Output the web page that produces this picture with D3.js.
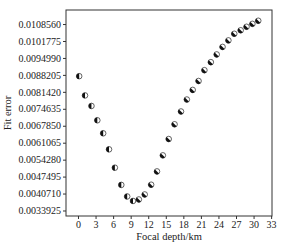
<!doctype html>
<html lang="en">
<head>
  <meta charset="utf-8">
  <title>Fit error vs focal depth</title>
  <script src="https://d3js.org/d3.v7.min.js"></script>
  <style>
    body { margin: 0; background: #fff; }
    text { font-family: "Liberation Serif", "Times New Roman", serif; fill: #222; }
  </style>
</head>
<body>
  <div id="chart"></div>
  <script type="text/javascript">

    var width = 283, height = 247;

    // focal depth (km) of each trial and its fit error
    var depths = [0.2, 1.2, 2.3, 3.3, 4.3, 5.3, 6.3, 7.4, 8.4, 9.4, 10.4,
                  11.4, 12.5, 13.5, 14.5, 15.5, 16.5, 17.6, 18.6, 19.6, 20.6,
                  21.6, 22.7, 23.7, 24.7, 25.7, 26.7, 27.8, 28.8, 29.8, 30.8];
    var fitErrors = [0.008769, 0.007998, 0.007577, 0.007003, 0.006482, 0.005840,
                     0.005106, 0.004416, 0.003954, 0.003774, 0.003834, 0.004034,
                     0.004424, 0.004957, 0.005599, 0.006253, 0.006843, 0.007356,
                     0.007834, 0.008219, 0.008576, 0.009009, 0.009330, 0.009639,
                     0.009940, 0.010201, 0.010466, 0.010606, 0.010746, 0.010863,
                     0.010987];

    var xTicks = [0, 3, 6, 9, 12, 15, 18, 21, 24, 27, 30, 33];
    var yTicks = [0.0033925, 0.0040710, 0.0047495, 0.0054280, 0.0061065, 0.0067850,
                  0.0074635, 0.0081420, 0.0088205, 0.0094990, 0.0101775, 0.0108560];
    var yTickLabels = ['0.0033925', '0.0040710', '0.0047495', '0.0054280', '0.0061065',
                       '0.0067850', '0.0074635', '0.0081420', '0.0088205', '0.0094990',
                       '0.0101775', '0.0108560'];

    var margin = {left: 66, right: 11, top: 10, bottom: 31};

    var x = d3.scaleLinear()
              .domain([-2.05, 33.15])
              .range([margin.left, width - margin.right]);

    var y = d3.scaleLinear()
              .domain([0.003172, 0.011418])
              .range([height - margin.bottom, margin.top]);

    var svg = d3.select('#chart')
                .append('svg')
                .attr('width', width)
                .attr('height', height);

    // x axis
    var xAxis = svg.append('g')
                   .attr('transform', 'translate(0,' + (height - margin.bottom) + ')')
                   .call(d3.axisBottom(x).tickValues(xTicks).tickSize(3).tickPadding(2));

    // y axis
    var yAxis = svg.append('g')
                   .attr('transform', 'translate(' + margin.left + ',0)')
                   .call(d3.axisLeft(y).tickValues(yTicks).tickSize(3).tickPadding(2)
                           .tickFormat(function(d, i) { return yTickLabels[i]; }));

    [xAxis, yAxis].forEach(function(a) {
      a.select('.domain').remove();
      a.selectAll('.tick line').attr('stroke', '#333');
      a.selectAll('.tick text')
       .style('font-family', '"Liberation Serif", serif')
       .style('font-size', '10px')
       .attr('fill', '#222');
    });

    // box around the plot
    svg.append('rect')
       .attr('x', x.range()[0])
       .attr('y', y.range()[1])
       .attr('width', x.range()[1] - x.range()[0])
       .attr('height', y.range()[0] - y.range()[1])
       .attr('fill', 'none')
       .attr('stroke', '#333')
       .attr('stroke-width', 1);

    // half filled markers
    var points = d3.range(depths.length).map(function(i) {
      return {x: depths[i], y: fitErrors[i], down: i === 0 || fitErrors[i] < fitErrors[i - 1]};
    });

    var halfArc = d3.arc().innerRadius(0).outerRadius(2.8)
                    .startAngle(Math.PI).endAngle(2 * Math.PI);

    var marks = svg.selectAll('.pt')
                   .data(points)
                   .enter()
                   .append('g')
                   .attr('class', 'pt')
                   .attr('transform', function(d) {
                     return 'translate(' + x(d.x) + ',' + y(d.y) + ')';
                   });

    marks.append('circle')
         .attr('r', 2.8)
         .attr('fill', '#fff')
         .attr('stroke', '#222')
         .attr('stroke-width', 0.7);

    marks.append('path')
         .attr('d', halfArc)
         .attr('fill', '#111')
         .attr('transform', function(d) { return d.down ? 'rotate(0)' : 'rotate(-45)'; });

    // axis titles
    svg.append('text')
       .attr('x', (x.range()[0] + x.range()[1]) / 2)
       .attr('y', 240)
       .attr('text-anchor', 'middle')
       .style('font-size', '10.5px')
       .text('Focal depth/km');

    svg.append('text')
       .attr('transform', 'translate(11,' + ((y.range()[0] + y.range()[1]) / 2) + ') rotate(-90)')
       .attr('text-anchor', 'middle')
       .style('font-size', '10.5px')
       .text('Fit error');

  </script>
</body>
</html>
